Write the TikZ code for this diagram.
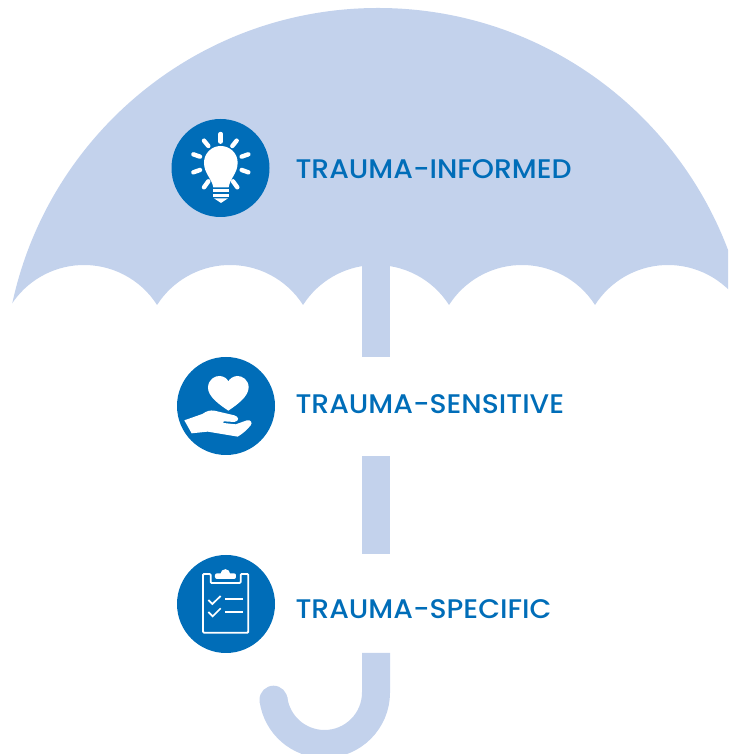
\documentclass[tikz,border=0pt]{standalone}
\usepackage{fontspec}
\setmainfont{Poppins}
\newfontfamily\labelfont[FakeStretch=1.05]{Poppins Medium}
\definecolor{canopy}{HTML}{C3D2EC}
\definecolor{iconblue}{HTML}{006DB8}
\tikzset{
  badge/.style={circle,fill=iconblue,minimum size=98pt,inner sep=0pt},
  label/.style={anchor=base west,inner sep=0pt,text=iconblue,font=\labelfont\fontsize{26.9}{28}\selectfont},
  ray/.style={draw=white,line width=4.4pt,line cap=round},
  thin/.style={draw=white,line width=1.8pt},
}
\begin{document}
\begin{tikzpicture}[x=1pt,y=1pt]
\useasboundingbox (0,0) rectangle (728,754);
\begin{scope}
\clip (0,0) rectangle (728,754);
% canopy
\begin{scope}
\clip (741,449) arc[start angle=32.55,end angle=147.45,radius=86.6]
  arc[start angle=32.55,end angle=147.45,radius=86.6]
  arc[start angle=32.55,end angle=147.45,radius=86.6]
  arc[start angle=32.55,end angle=147.45,radius=86.6]
  arc[start angle=32.55,end angle=147.45,radius=86.6]
  -- (11,800) -- (741,800) -- cycle;
\fill[canopy] (378,372) circle[radius=374];
\end{scope}
% pole
\fill[canopy] (362,397) rectangle (390,500);
\fill[canopy] (362,200) rectangle (390,298);
\draw[canopy,line width=28pt,line cap=butt] (376,101) -- (376,61.5) arc[start angle=0,end angle=-172,radius=51.5];
\fill[canopy] (273.5,54.3) circle[radius=14];
\end{scope}
% badges
\node[badge] (informed) at (220.5,586) {};
\node[badge] (sensitive) at (226,348) {};
\node[badge] (specific) at (226,150) {};
% labels
\node[label] (t1) at (295.3,575.5) {TRAUMA-INFORMED};
\node[label] (t2) at (295.3,340.5) {TRAUMA-SENSITIVE};
\node[label] (t3) at (295.3,135.5) {TRAUMA-SPECIFIC};
% bulb
\begin{scope}[shift={(160,644)},x=0.3333pt,y=-0.3333pt]
\foreach \a/\b/\c/\d in {182/72/182/95,132/92/145/108,230/92/217/108,100/133/120/140,265/133/245/140,100/187/120/180,265/187/245/180,132/232/145/214,232/232/219/214}
  \draw[ray] (\a,\b) -- (\c,\d);
\fill[white] (160,232) .. controls (155,205) and (132,190) .. (132,158)
  .. controls (132,130) and (155,108) .. (182,108)
  .. controls (210,108) and (233,130) .. (233,158)
  .. controls (233,190) and (210,205) .. (206,232) -- cycle;
\fill[white] (158,238) rectangle (207,246);
\fill[white] (158,251) rectangle (207,260);
\fill[white] (162,265) -- (204,265) -- (183,279) -- cycle;
\end{scope}
% heart and hand
\begin{scope}[shift={(165,404)},x=0.3333pt,y=-0.3333pt]
\fill[white] (190,182) .. controls (165,165) and (128,140) .. (129,112)
  .. controls (130,88) and (150,77) .. (165,78)
  .. controls (178,79) and (187,87) .. (190,94)
  .. controls (194,87) and (203,79) .. (216,78)
  .. controls (232,77) and (251,90) .. (251,112)
  .. controls (251,140) and (215,165) .. (190,182) -- cycle;
\fill[white] (58,211) -- (112,192) .. controls (125,183) and (135,180) .. (148,182)
  -- (208,196) .. controls (222,200) and (224,213) .. (208,216)
  -- (176,214) -- (175,219) -- (212,223)
  -- (246,211) .. controls (256,208) and (264,218) .. (257,226)
  .. controls (248,238) and (232,252) .. (218,260)
  -- (128,245) -- (80,250) -- cycle;
\end{scope}
% clipboard
\begin{scope}[shift={(165,206)},x=0.3333pt,y=-0.3333pt]
\draw[thin,rounded corners=1pt] (137,78) -- (114,78) -- (114,254) -- (250,254) -- (250,78) -- (227,78) -- (227,105) -- (137,105) -- cycle;
\fill[white,rounded corners=2pt] (150,93) -- (150,76) -- (213,76) -- (213,93) -- cycle;
\fill[white] (181,78) circle[radius=14.5];
\draw[thin,line width=1.7pt] (130,156) -- (142,168) -- (167,144);
\draw[thin,line width=1.7pt] (130,192) -- (143,205) -- (167,181);
\draw[thin] (180,153) -- (233,153);
\draw[thin] (180,191) -- (233,191);
\end{scope}
\end{tikzpicture}
\end{document}
